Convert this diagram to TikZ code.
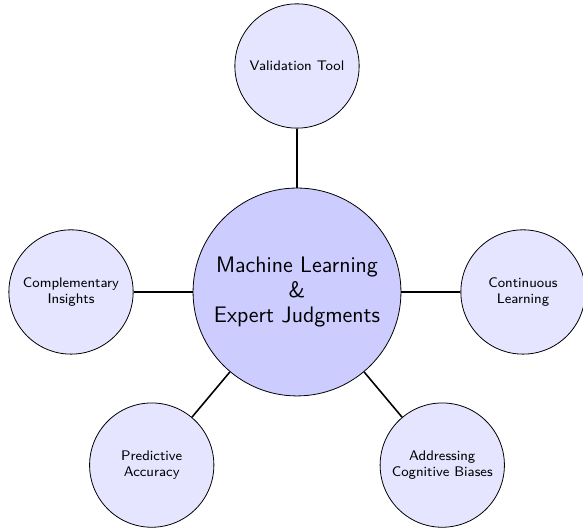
\documentclass[tikz,border=0pt]{standalone}
\usepackage{tikz}
\usetikzlibrary{positioning}
\tikzset{
	hub/.style={circle, draw, fill=blue!20, minimum size=3.68cm, align=center, font=\sffamily\fontsize{11.3}{12.6}\selectfont},
	leaf/.style={circle, draw, fill=blue!10, minimum size=2.2cm, align=center, font=\sffamily\scriptsize},
	link/.style={thick}
}

\begin{document}
\begin{tikzpicture}
		%%%%% START %%%%%
		\useasboundingbox (-5.257, -4.177) rectangle (5.062, 5.168);
		
		\node[hub] (ml) at (0, 0) {Machine Learning\\ \&\\ Expert Judgments};
		
		\node[leaf] (valid) at (90:4) {Validation Tool};
		\node[leaf] (learn) at (0:4) {Continuous\\ Learning};
		\node[leaf] (bias) at (-50:4) {Addressing\\ Cognitive Biases};
		\node[leaf] (acc) at (-130:4) {Predictive\\ Accuracy};
		\node[leaf] (insight) at (180:4) {Complementary\\ Insights};
		
		\draw[link] (ml) -- (valid);
		\draw[link] (ml) -- (learn);
		\draw[link] (ml) -- (bias);
		\draw[link] (ml) -- (acc);
		\draw[link] (ml) -- (insight);
		
		%%%%% END %%%%%
	\end{tikzpicture}
\end{document}
